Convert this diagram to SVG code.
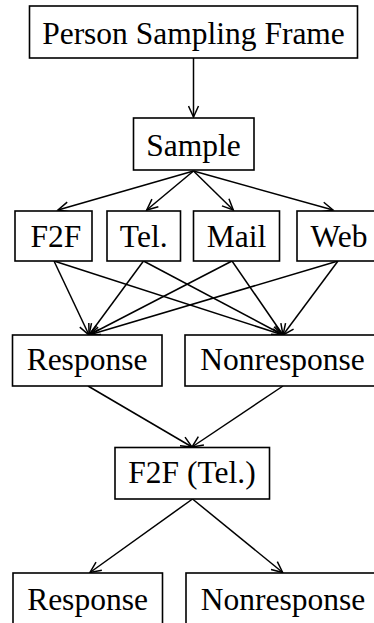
<svg xmlns="http://www.w3.org/2000/svg" width="374" height="623" viewBox="0 0 374 623">
  <style>
    .box { fill: #ffffff; stroke: #000000; stroke-width: 1.6; }
    .lbl { font-family: "Liberation Serif", "Times New Roman", serif; font-size: 31.5px; fill: #000000; text-anchor: middle; }
    .edge { fill: none; stroke: #000000; stroke-width: 1.5; marker-end: url(#arrow); }
  </style>
  <defs>
    <marker id="arrow" markerUnits="userSpaceOnUse" markerWidth="14" markerHeight="12" viewBox="-12 -6 14 12" refX="0" refY="0" orient="auto">
      <path d="M-11,-5 L0,0 L-11,5" fill="none" stroke="#000000" stroke-width="1.5"/>
    </marker>
  </defs>

  <rect width="374" height="623" fill="#ffffff"/>

  <g id="connectors">
    <line class="edge" x1="193.5" y1="58" x2="193.5" y2="117"/>
    <line class="edge" x1="193.5" y1="171" x2="58" y2="210"/>
    <line class="edge" x1="193.5" y1="171" x2="146.7" y2="210"/>
    <line class="edge" x1="193.5" y1="171" x2="233.3" y2="210"/>
    <line class="edge" x1="193.5" y1="171" x2="333" y2="210"/>
    <line class="edge" x1="54" y1="261" x2="89" y2="335"/>
    <line class="edge" x1="54" y1="261" x2="283" y2="335"/>
    <line class="edge" x1="143.5" y1="261" x2="89" y2="335"/>
    <line class="edge" x1="143.5" y1="261" x2="283" y2="335"/>
    <line class="edge" x1="232" y1="261" x2="89" y2="335"/>
    <line class="edge" x1="232" y1="261" x2="283" y2="335"/>
    <line class="edge" x1="338" y1="261" x2="89" y2="335"/>
    <line class="edge" x1="338" y1="261" x2="283" y2="335"/>
    <line class="edge" x1="88" y1="386" x2="192" y2="447"/>
    <line class="edge" x1="283" y1="386" x2="192" y2="447"/>
    <line class="edge" x1="192.5" y1="499" x2="90" y2="572.5"/>
    <line class="edge" x1="192.5" y1="499" x2="282.7" y2="572.5"/>
  </g>

  <g id="frame">
    <rect class="box" x="29.5" y="6" width="328" height="52"/>
    <text class="lbl" x="193.5" y="43.5">Person Sampling Frame</text>
  </g>
  <g id="sample">
    <rect class="box" x="133.5" y="118" width="120.5" height="52"/>
    <text class="lbl" x="193.5" y="155.7">Sample</text>
  </g>
  <g id="f2f">
    <rect class="box" x="15" y="211" width="77" height="50"/>
    <text class="lbl" x="56" y="246.5">F2F</text>
  </g>
  <g id="tel">
    <rect class="box" x="107" y="211" width="73.5" height="50"/>
    <text class="lbl" x="143.7" y="246.5">Tel.</text>
  </g>
  <g id="mail">
    <rect class="box" x="193.5" y="211" width="86" height="50"/>
    <text class="lbl" x="236.5" y="246.5">Mail</text>
  </g>
  <g id="web">
    <rect class="box" x="297" y="211" width="90" height="50"/>
    <text class="lbl" x="339" y="246.5">Web</text>
  </g>
  <g id="response">
    <rect class="box" x="12.5" y="335" width="149.5" height="51"/>
    <text class="lbl" x="87" y="370">Response</text>
  </g>
  <g id="nonresponse">
    <rect class="box" x="185" y="335" width="200" height="51"/>
    <text class="lbl" x="282.5" y="370">Nonresponse</text>
  </g>
  <g id="followup">
    <rect class="box" x="115" y="447.5" width="154.5" height="51.5"/>
    <text class="lbl" x="192" y="483">F2F (Tel.)</text>
  </g>
  <g id="response-final">
    <rect class="box" x="13" y="573" width="149.5" height="60"/>
    <text class="lbl" x="87.5" y="610">Response</text>
  </g>
  <g id="nonresponse-final">
    <rect class="box" x="186" y="573" width="200" height="60"/>
    <text class="lbl" x="283" y="610">Nonresponse</text>
  </g>
</svg>
